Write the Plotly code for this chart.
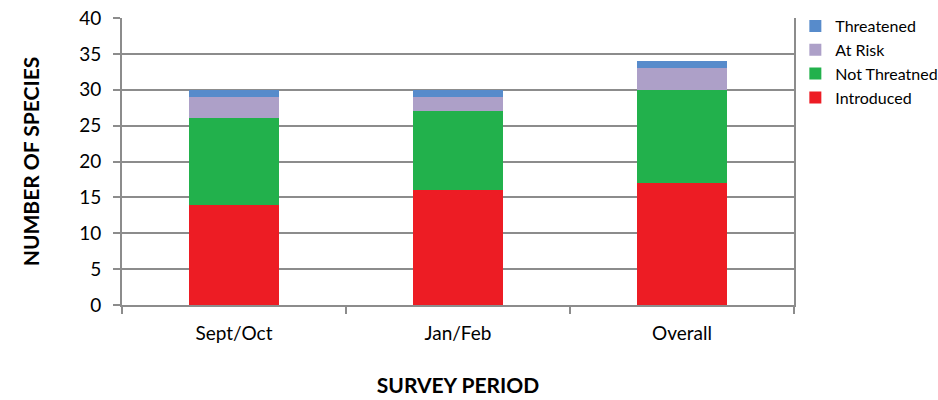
import plotly.graph_objects as go

periods = ["Sept/Oct", "Jan/Feb", "Overall"]
introduced = [14, 16, 17]
not_threatened = [12, 11, 13]
at_risk = [3, 2, 3]
threatened = [1, 1, 1]

series = [
    ("Introduced", introduced, "#ED1C24"),
    ("Not Threatned", not_threatened, "#22B14C"),
    ("At Risk", at_risk, "#ADA0C8"),
    ("Threatened", threatened, "#578BCB"),
]

FONT = "Lato"
GRID = "#8C8C8C"

fig = go.Figure()
for name, vals, color in series:
    fig.add_trace(go.Bar(
        x=periods, y=vals, name=name,
        marker=dict(color=color, line=dict(width=0)),
    ))

fig.update_layout(
    barmode="stack",
    bargap=0.6,
    width=938, height=400,
    margin=dict(l=122, r=144, t=18, b=95, autoexpand=False),
    paper_bgcolor="white", plot_bgcolor="white",
    font=dict(family=FONT, color="#000000", size=19),
    legend=dict(
        traceorder="reversed",
        x=1.002, xanchor="left", y=1.031, yanchor="top",
        bgcolor="rgba(0,0,0,0)",
        font=dict(family=FONT, size=16),
        itemwidth=30, tracegroupgap=0,
    ),
    xaxis=dict(
        showline=True, linecolor=GRID, linewidth=2,
        ticks="outside", tickson="boundaries", ticklen=7,
        tickcolor=GRID, tickwidth=2,
        tickfont=dict(size=19), ticklabelstandoff=10, showgrid=False,
        title=dict(text="<b>SURVEY PERIOD</b>", font=dict(size=21), standoff=36),
    ),
    yaxis=dict(
        range=[0, 40], dtick=5,
        showline=True, linecolor=GRID, linewidth=2, mirror=True,
        ticks="outside", ticklen=7, tickcolor=GRID, tickwidth=2,
        showgrid=True, gridcolor=GRID, gridwidth=2,
        zeroline=False, tickfont=dict(size=19), ticklabelstandoff=8,
        title=dict(text="<b>NUMBER OF SPECIES</b>", font=dict(size=21), standoff=34),
    ),
)

fig.write_html("out.html")
